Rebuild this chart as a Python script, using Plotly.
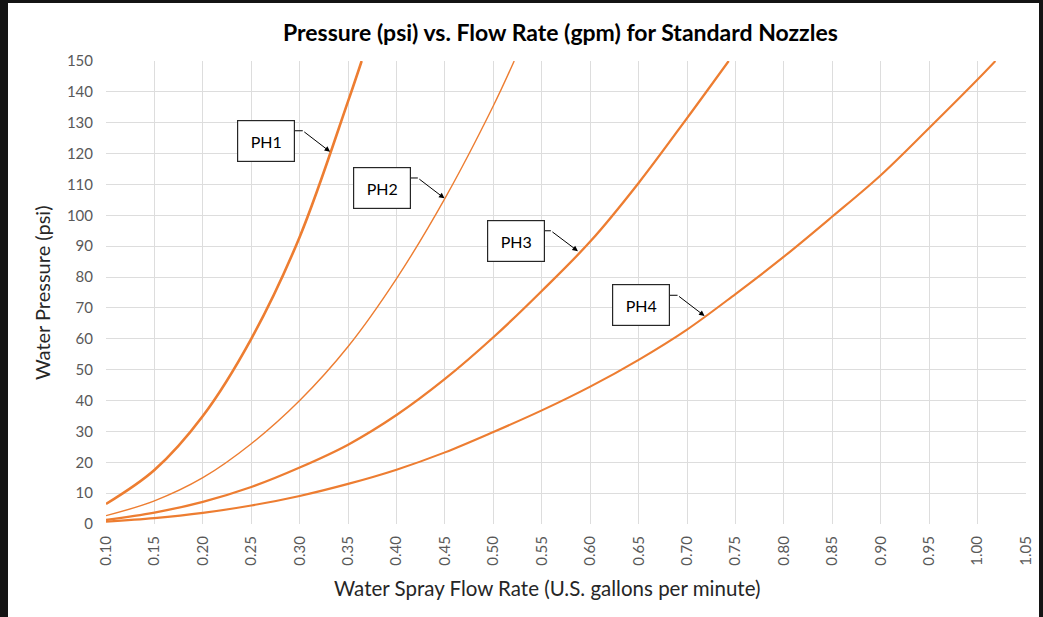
import plotly.graph_objects as go

# ---- data ----
ph1_q = [0.10, 0.15, 0.20, 0.25, 0.30, 0.35, 0.364]
ph1_p = [6.5, 17.5, 35.0, 60.0, 93.0, 137.0, 150.0]

ph2_q = [0.10, 0.15, 0.20, 0.25, 0.30, 0.35, 0.40, 0.45, 0.50, 0.5215]
ph2_p = [2.7, 7.5, 15.0, 26.0, 40.0, 57.5, 79.5, 105.5, 135.5, 150.0]

ph3_q = [0.10, 0.15, 0.20, 0.25, 0.30, 0.35, 0.40, 0.45, 0.50, 0.55, 0.60, 0.65, 0.70, 0.743]
ph3_p = [1.3, 3.7, 7.2, 12.0, 18.3, 25.7, 35.3, 47.0, 60.5, 75.5, 91.5, 110.5, 131.5, 150.0]

ph4_q = [0.10, 0.15, 0.20, 0.25, 0.30, 0.35, 0.40, 0.45, 0.50, 0.55, 0.60, 0.65, 0.70,
         0.75, 0.80, 0.85, 0.90, 0.95, 1.00, 1.0184]
ph4_p = [0.75, 1.9, 3.6, 6.0, 9.1, 13.0, 17.6, 23.2, 29.8, 36.8, 44.5, 53.2, 63.0,
         74.5, 86.6, 99.6, 113.0, 128.3, 144.0, 150.0]

labels = ["PH1", "PH2", "PH3", "PH4"]
# label box centre, box right edge, elbow point, arrow tip (data coords)
box_q = [0.2653, 0.3846, 0.5230, 0.6525]
box_p = [124.0, 108.8, 91.6, 70.9]
box_right_q = [0.2952, 0.4144, 0.5528, 0.6819]
elbow_q = [0.3032, 0.4220, 0.5594, 0.6902]
elbow_p = [127.4, 112.1, 95.0, 74.1]
tip_q = [0.3314, 0.4495, 0.5873, 0.7181]
tip_p = [120.6, 105.5, 88.4, 67.4]

x_ticks = [round(0.10 + 0.05 * i, 2) for i in range(20)]
y_ticks = list(range(0, 151, 10))

title_text = "Pressure (psi) vs. Flow Rate (gpm) for Standard Nozzles"
x_title = "Water Spray Flow Rate (U.S. gallons per minute)"
y_title = "Water Pressure (psi)"

ORANGE = "#ED7D31"
FONT = "Lato"

fig = go.Figure()
series = [(ph1_q, ph1_p, 2.6), (ph2_q, ph2_p, 1.4), (ph3_q, ph3_p, 2.3), (ph4_q, ph4_p, 2.1)]
for (q, p, w), name in zip(series, labels):
    fig.add_trace(go.Scatter(x=q, y=p, mode="lines", name=name,
                             line=dict(color=ORANGE, width=w, shape="spline", smoothing=1.0),
                             showlegend=False, hoverinfo="x+y"))

W, H = 1043, 617
L, R, T, B = 106, 17, 61, 93
pw, ph = W - L - R, H - T - B

def px2paper_x(px):
    return (px - L) / pw

def px2paper_y(py):
    return (H - B - py) / ph

shapes = [dict(type="rect", xref="paper", yref="paper",
               x0=px2paper_x(8), x1=px2paper_x(1039), y0=px2paper_y(620), y1=px2paper_y(3),
               fillcolor="white", line=dict(width=0), layer="below")]
annotations = []
for i, lab in enumerate(labels):
    shapes.append(dict(type="line", xref="x", yref="y",
                       x0=box_right_q[i], y0=elbow_p[i], x1=elbow_q[i], y1=elbow_p[i],
                       line=dict(color="#000000", width=1)))
    annotations.append(dict(x=tip_q[i], y=tip_p[i], ax=elbow_q[i], ay=elbow_p[i],
                            axref="x", ayref="y", xref="x", yref="y", text="",
                            showarrow=True, arrowhead=2, arrowsize=1.1, arrowwidth=1,
                            arrowcolor="#000000"))
    annotations.append(dict(x=box_q[i], y=box_p[i], xref="x", yref="y", text=lab,
                            showarrow=False, width=54, height=38, borderpad=1,
                            bordercolor="#262626", borderwidth=1.2, bgcolor="white",
                            font=dict(family=FONT, size=16, color="#000000")))

annotations.append(dict(x=px2paper_x(560.5), y=px2paper_y(32), xref="paper", yref="paper",
                        text="<b>" + title_text + "</b>", showarrow=False,
                        xanchor="center", yanchor="middle",
                        font=dict(family=FONT, size=23, color="#000000")))
annotations.append(dict(x=px2paper_x(547.5), y=px2paper_y(588), xref="paper", yref="paper",
                        text=x_title, showarrow=False, xanchor="center", yanchor="middle",
                        font=dict(family=FONT, size=20.5, color="#262626")))
annotations.append(dict(x=px2paper_x(42), y=px2paper_y(293), xref="paper", yref="paper",
                        text=y_title, showarrow=False, textangle=-90,
                        xanchor="center", yanchor="middle",
                        font=dict(family=FONT, size=20, color="#262626")))

fig.update_layout(
    width=W, height=H,
    margin=dict(l=L, r=R, t=T, b=B, autoexpand=False),
    paper_bgcolor="#141414", plot_bgcolor="white",
    shapes=shapes, annotations=annotations,
    xaxis=dict(range=[0.10, 1.05], tickvals=x_ticks, ticktext=[f"{v:.2f}" for v in x_ticks],
               tickangle=-90, showgrid=True, gridcolor="#DDDDDD", gridwidth=1,
               zeroline=False, showline=False, ticks="", ticklabelstandoff=8,
               tickfont=dict(family=FONT, size=15, color="#595959")),
    yaxis=dict(range=[0, 150], tickvals=y_ticks, showgrid=True, gridcolor="#DDDDDD",
               gridwidth=1, zeroline=False, showline=False, ticks="", ticklabelstandoff=12,
               tickfont=dict(family=FONT, size=15, color="#595959")),
)

fig.write_html("out.html",
               config={"displayModeBar": False},
               post_script="document.body.style.margin='0';"
                           "document.body.style.background='#141414';"
                           "document.body.style.overflow='hidden';")
